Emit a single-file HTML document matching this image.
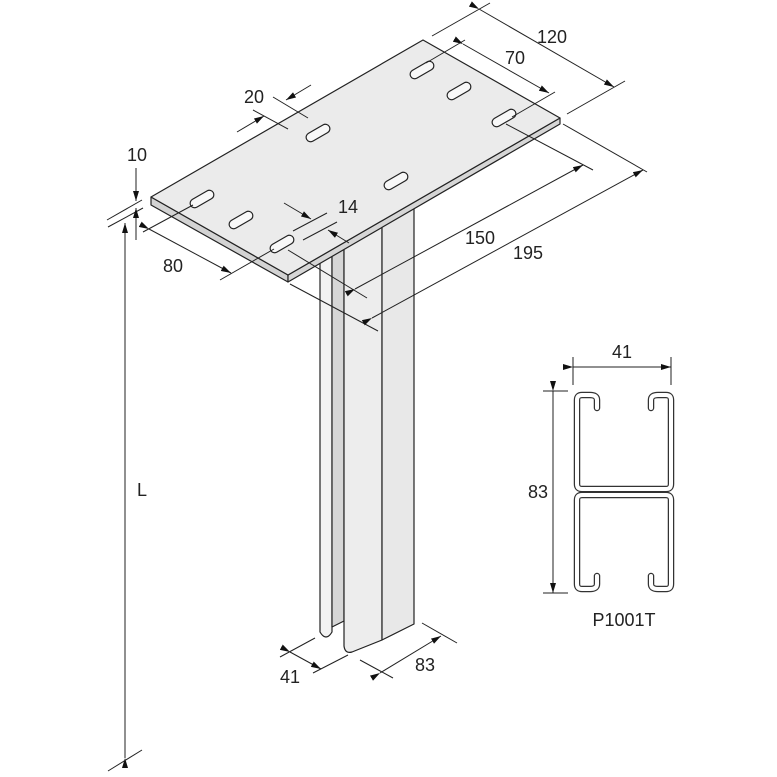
<!DOCTYPE html>
<html><head><meta charset="utf-8"><style>
html,body{margin:0;padding:0;background:#fff}
svg{display:block}
text{font-family:"Liberation Sans",sans-serif;font-size:18px;fill:#222}
</style></head><body>
<svg width="777" height="777" viewBox="0 0 777 777" xmlns="http://www.w3.org/2000/svg">
<defs>
<marker id="a" viewBox="0 0 10 6" refX="10" refY="3" markerWidth="10" markerHeight="6" markerUnits="userSpaceOnUse" orient="auto"><path d="M0,0 L10,3 L0,6 z" fill="#111"/></marker>
</defs>
<g stroke="#222" stroke-width="1.2" stroke-linejoin="round">
<!-- column -->
<path d="M320,200 V632 Q326,642 332,632 V200 Z" fill="#f2f2f2"/>
<path d="M332,200 V627 L344,621 V200 Z" fill="#d6d6d6"/>
<path d="M344,200 V646 Q345,654 352,652 L382,640 V200 Z" fill="#ededed"/>
<path d="M382,180 V640 L414,624 V160 Z" fill="#e8e8e8"/>
<!-- plate -->
<path d="M151,197 L288,275 L288,282 L151,205 Z" fill="#d3d3d3"/>
<path d="M288,275 L560,118 L560,124 L288,282 Z" fill="#d6d6d6"/>
<path d="M151,197 L423,40 L560,118 L288,275 Z" fill="#ebebeb"/>
</g>
<!-- slots -->
<g fill="#f8f8f8" stroke="#222" stroke-width="1.2">
<rect x="-13" y="-4.5" width="26" height="9" rx="4.5" transform="translate(422,70) rotate(-30)"/>
<rect x="-13" y="-4.5" width="26" height="9" rx="4.5" transform="translate(459,91) rotate(-30)"/>
<rect x="-13" y="-4.5" width="26" height="9" rx="4.5" transform="translate(504,118) rotate(-30)"/>
<rect x="-13" y="-4.5" width="26" height="9" rx="4.5" transform="translate(318,133) rotate(-30)"/>
<rect x="-13" y="-4.5" width="26" height="9" rx="4.5" transform="translate(396,181) rotate(-30)"/>
<rect x="-13" y="-4.5" width="26" height="9" rx="4.5" transform="translate(202,199) rotate(-30)"/>
<rect x="-13" y="-4.5" width="26" height="9" rx="4.5" transform="translate(241,220) rotate(-30)"/>
<rect x="-13" y="-4.5" width="26" height="9" rx="4.5" transform="translate(282,244) rotate(-30)"/>
</g>
<!-- dimension lines -->
<g stroke="#222" stroke-width="1" fill="none">
<line x1="432" y1="36" x2="490" y2="3"/>
<line x1="567" y1="114" x2="625" y2="81"/>
<line x1="479" y1="9" x2="614" y2="87" marker-start="url(#a)" marker-end="url(#a)"/>
<line x1="426" y1="63" x2="465" y2="40"/>
<line x1="512" y1="117" x2="555" y2="92"/>
<line x1="463" y1="44" x2="549" y2="93" marker-start="url(#a)" marker-end="url(#a)"/>
<line x1="273" y1="97" x2="308" y2="118"/>
<line x1="253" y1="110" x2="288" y2="129"/>
<line x1="237" y1="132" x2="264" y2="116" marker-end="url(#a)"/>
<line x1="311" y1="85" x2="286" y2="100" marker-end="url(#a)"/>
<line x1="293" y1="231" x2="327" y2="213"/>
<line x1="303" y1="240" x2="337" y2="222"/>
<line x1="284" y1="203" x2="311" y2="219" marker-end="url(#a)"/>
<line x1="349" y1="243" x2="328" y2="230" marker-end="url(#a)"/>
<line x1="288" y1="250" x2="367" y2="298"/>
<line x1="506" y1="124" x2="593" y2="170"/>
<line x1="355" y1="289" x2="583" y2="165" marker-start="url(#a)" marker-end="url(#a)"/>
<line x1="290" y1="284" x2="378" y2="331"/>
<line x1="563" y1="124" x2="647" y2="172"/>
<line x1="372" y1="318" x2="643" y2="170" marker-start="url(#a)" marker-end="url(#a)"/>
<line x1="143" y1="232" x2="193" y2="205"/>
<line x1="220" y1="280" x2="274" y2="249"/>
<line x1="149" y1="229" x2="231" y2="273" marker-start="url(#a)" marker-end="url(#a)"/>
<line x1="107" y1="220" x2="142" y2="200"/>
<line x1="108" y1="227" x2="143" y2="208"/>
<line x1="136" y1="168" x2="136" y2="201" marker-end="url(#a)"/>
<line x1="136" y1="240" x2="136" y2="208" marker-end="url(#a)"/>
<line x1="125" y1="758" x2="125" y2="223" marker-start="url(#a)" marker-end="url(#a)"/>
<line x1="108" y1="771" x2="142" y2="750"/>
<line x1="280" y1="657" x2="315" y2="638"/>
<line x1="313" y1="673" x2="348" y2="655"/>
<line x1="290" y1="652" x2="321" y2="669" marker-start="url(#a)" marker-end="url(#a)"/>
<line x1="360" y1="660" x2="393" y2="678"/>
<line x1="422" y1="623" x2="457" y2="643"/>
<line x1="380" y1="673" x2="441" y2="636" marker-start="url(#a)" marker-end="url(#a)"/>
<line x1="573" y1="357" x2="573" y2="385"/>
<line x1="671" y1="357" x2="671" y2="385"/>
<line x1="573" y1="367" x2="671" y2="367" marker-start="url(#a)" marker-end="url(#a)"/>
<line x1="543" y1="391" x2="568" y2="391"/>
<line x1="543" y1="593" x2="568" y2="593"/>
<line x1="553" y1="391" x2="553" y2="593" marker-start="url(#a)" marker-end="url(#a)"/>
</g>
<!-- profile -->
<g fill="none" stroke-linejoin="round" stroke-linecap="round">
<path d="M597,408 V400 Q597,395 590,395 H582 Q577,395 577,400 V484 Q577,489 582,489 H666 Q671,489 671,484 V400 Q671,395 666,395 H658 Q651,395 651,400 V408" stroke="#333" stroke-width="6.5"/>
<path d="M597,576 V584 Q597,589 590,589 H582 Q577,589 577,584 V500 Q577,495 582,495 H666 Q671,495 671,500 V584 Q671,589 666,589 H658 Q651,589 651,584 V576" stroke="#333" stroke-width="6.5"/>
<path d="M597,408 V400 Q597,395 590,395 H582 Q577,395 577,400 V484 Q577,489 582,489 H666 Q671,489 671,484 V400 Q671,395 666,395 H658 Q651,395 651,400 V408" stroke="#fff" stroke-width="4"/>
<path d="M597,576 V584 Q597,589 590,589 H582 Q577,589 577,584 V500 Q577,495 582,495 H666 Q671,495 671,500 V584 Q671,589 666,589 H658 Q651,589 651,584 V576" stroke="#fff" stroke-width="4"/>
</g>
<!-- labels -->
<text x="552" y="43" text-anchor="middle">120</text>
<text x="515" y="64" text-anchor="middle">70</text>
<text x="254" y="103" text-anchor="middle">20</text>
<text x="137" y="161" text-anchor="middle">10</text>
<text x="348" y="213" text-anchor="middle">14</text>
<text x="480" y="244" text-anchor="middle">150</text>
<text x="528" y="259" text-anchor="middle">195</text>
<text x="173" y="272" text-anchor="middle">80</text>
<text x="142" y="496" text-anchor="middle">L</text>
<text x="290" y="683" text-anchor="middle">41</text>
<text x="425" y="671" text-anchor="middle">83</text>
<text x="622" y="358" text-anchor="middle">41</text>
<text x="538" y="498" text-anchor="middle">83</text>
<text x="624" y="626" text-anchor="middle">P1001T</text>
</svg>
</body></html>
